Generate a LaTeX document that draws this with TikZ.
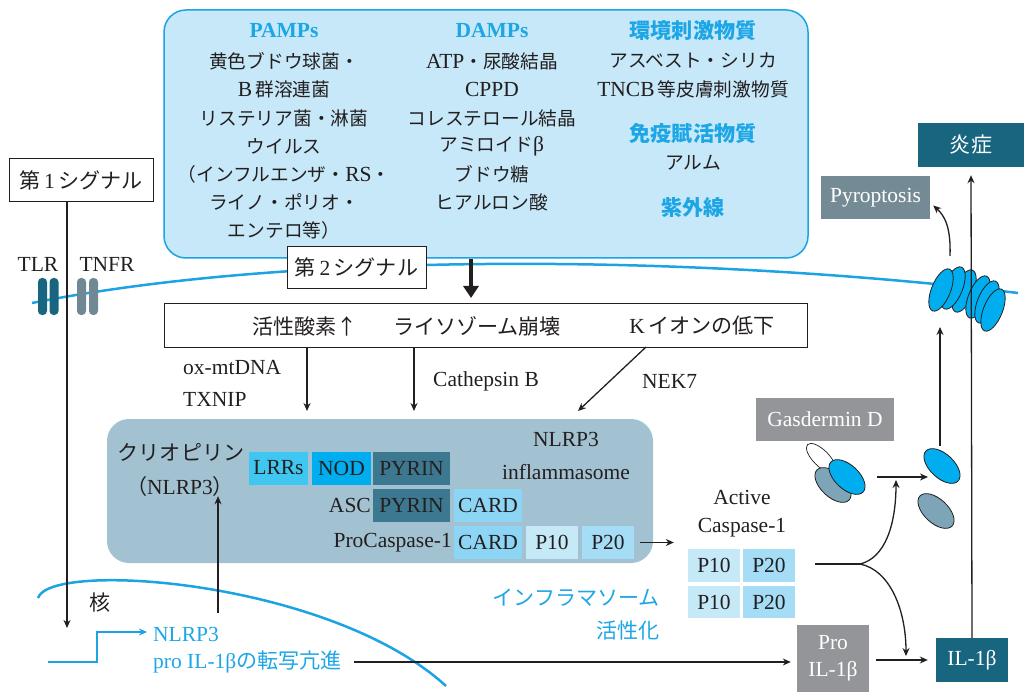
\documentclass[tikz,border=0pt]{standalone}
\usepackage{fontspec}
\setmainfont{Liberation Serif}
\newfontfamily\jp{Noto Sans CJK JP}[Scale=0.98]
\newfontfamily\jps{Noto Sans CJK JP}[Scale=0.87]
\usetikzlibrary{arrows.meta}
\definecolor{ink}{HTML}{231F20}
\definecolor{cyanline}{HTML}{1BA3E3}
\definecolor{skyfill}{HTML}{C6E8F8}
\definecolor{bluetext}{HTML}{1DA6E6}
\definecolor{inflbox}{HTML}{A3C2D1}
\definecolor{tealdark}{HTML}{17657F}
\definecolor{pyrin}{HTML}{3D7891}
\definecolor{lrr}{HTML}{3FC6F1}
\definecolor{nod}{HTML}{00AEEF}
\definecolor{card}{HTML}{8DD5F4}
\definecolor{pten}{HTML}{C6E9F8}
\definecolor{ptwenty}{HTML}{A6DDF6}
\definecolor{greybox}{HTML}{939598}
\definecolor{pyro}{HTML}{748B96}
\definecolor{gsdgrey}{HTML}{7EA4B8}
\definecolor{tnfr}{HTML}{6F8894}
\newcommand\bodyfont{\fontsize{21.5}{25}\selectfont}
\begin{document}
\begin{tikzpicture}[x=1pt,y=-1pt,
  lbl/.style={inner sep=0pt, font=\bodyfont, text=ink},
  head/.style={inner sep=0pt, font=\bodyfont\bfseries, text=bluetext},
  bluelbl/.style={inner sep=0pt, font=\bodyfont, text=bluetext},
  sigbox/.style={draw=ink, line width=1pt, fill=white, inner sep=0pt, font=\bodyfont, text=ink},
  dom/.style={inner sep=0pt, font=\bodyfont, text=ink, minimum height=33pt},
  tag/.style={inner sep=0pt, font=\bodyfont, text=white},
  arr/.style={draw=ink, line width=1.3pt, -{Stealth[length=8pt,width=7pt]}},
  membrane/.style={draw=cyanline, line width=2.5pt},
  pore/.style={draw=ink, line width=0.8pt, fill=nod},
]
\useasboundingbox (0,0) rectangle (1024,692);

% ---- stimuli panel ----
\draw[draw=cyanline, line width=1.5pt, fill=skyfill, rounded corners=22pt]
  (164,10) rectangle (808,258);

\node[head] (pamps) at (284,31) {PAMPs};
\node[lbl] (pa1) at (284,61) {\jps 黄色ブドウ球菌・};
\node[lbl] (pa2) at (284,89) {B{\jps\,群溶連菌}};
\node[lbl] (pa3) at (284,118) {\jps リステリア菌・淋菌};
\node[lbl] (pa4) at (284,146) {\jps ウイルス};
\node[lbl] (pa5) at (284,174) {{\jps （インフルエンザ・}RS{\jps ・}};
\node[lbl] (pa6) at (284,202) {\jps ライノ・ポリオ・};
\node[lbl] (pa7) at (284,230) {\jps エンテロ等）};

\node[head] (damps) at (492,31) {DAMPs};
\node[lbl] (da1) at (492,61) {ATP{\jps ・尿酸結晶}};
\node[lbl] (da2) at (492,89) {CPPD};
\node[lbl] (da3) at (492,118) {\jps コレステロール結晶};
\node[lbl] (da4) at (492,146) {{\jps アミロイド}β};
\node[lbl] (da5) at (492,174) {\jps ブドウ糖};
\node[lbl] (da6) at (492,202) {\jps ヒアルロン酸};

\node[head] (env) at (693,31) {\jp\bfseries 環境刺激物質};
\node[lbl] (en1) at (693,61) {\jps アスベスト・シリカ};
\node[lbl] (en2) at (693,89) {TNCB{\jps\,等皮膚刺激物質}};
\node[head] (adj) at (693,133) {\jp\bfseries 免疫賦活物質};
\node[lbl] (adj1) at (693,163) {\jps アルム};
\node[head] (uv) at (693,208) {\jp\bfseries 紫外線};

% ---- cell membrane ----
\draw[membrane] (32,303) .. controls (300,250) and (700,255) .. (1018,293);

% ---- receptors ----
\foreach \x in {42.5,54} \fill[tealdark, rounded corners=4pt] (\x-4.5,278) rectangle (\x+4.5,315);
\foreach \x in {81.5,93.5} \fill[tnfr, rounded corners=4pt] (\x-4.5,278) rectangle (\x+4.5,315);
\node[lbl] (tlr) at (38,264) {TLR};
\node[lbl] (tnfr) at (107,264) {TNFR};

% ---- signals ----
\node[sigbox, minimum width=144pt, minimum height=43pt] (sig1) at (81,180.5) {{\jp 第}\,1\,{\jp シグナル}};
\node[sigbox, minimum width=139pt, minimum height=42pt] (sig2) at (356.5,267.5) {{\jp 第}\,2\,{\jp シグナル}};
\coordinate (sigtop) at (471,259);
\coordinate (sigbot) at (471,298);
\draw[draw=ink, line width=4.5pt, -{Triangle[length=12pt,width=15pt]}] (sigtop) -- (sigbot);

\node[sigbox, minimum width=643pt, minimum height=44pt] (trig) at (485.5,325) {};
\node[lbl] (ros) at (305,326) {{\jp 活性酸素↑}};
\node[lbl] (lys) at (477,326) {\jp ライソゾーム崩壊};
\node[lbl] (kion) at (702,326) {K{\jp\,イオンの低下}};

\coordinate (rosout) at (307,347);
\coordinate (rosin) at (307,411);
\coordinate (lysout) at (414,347);
\coordinate (lysin) at (414,411);
\coordinate (kout) at (646,347);
\coordinate (kin) at (578,411);
\draw[arr] (rosout) -- (rosin);
\draw[arr] (lysout) -- (lysin);
\draw[arr] (kout) -- (kin);

\node[lbl, anchor=west] (oxmt) at (183,368) {ox-mtDNA};
\node[lbl, anchor=west] (txnip) at (183,399) {TXNIP};
\node[lbl, anchor=west] (cath) at (433,381) {Cathepsin B};
\node[lbl, anchor=west] (nek) at (642,381) {NEK7};

% ---- inflammasome ----
\fill[inflbox, rounded corners=22pt] (107,419) rectangle (653,563);
\node[lbl] (crio) at (181,452) {\jp クリオピリン};
\node[lbl] (crio2) at (180,486) {{\jp （}NLRP3{\jp ）}};
\node[lbl] (nlrp) at (566,439) {NLRP3};
\node[lbl] (nlrp2) at (566,472) {inflammasome};

\node[dom, fill=lrr, minimum width=59pt] (lrrs) at (278.5,468) {LRRs};
\node[dom, fill=nod, minimum width=59pt] (nod) at (341.5,468) {NOD};
\node[dom, fill=pyrin, minimum width=77pt] (pyr1) at (411.5,468) {PYRIN};
\node[lbl, anchor=east] (asc) at (371,505.5) {ASC};
\node[dom, fill=pyrin, minimum width=77pt] (pyr2) at (411.5,505.5) {PYRIN};
\node[dom, fill=card, minimum width=68pt] (card1) at (488,505.5) {CARD};
\node[lbl, anchor=east] (procasp) at (452,542.5) {ProCaspase-1};
\node[dom, fill=card, minimum width=68pt] (card2) at (488,542.5) {CARD};
\node[dom, fill=pten, minimum width=52pt] (p10a) at (552,542.5) {P10};
\node[dom, fill=ptwenty, minimum width=52pt] (p20a) at (608,542.5) {P20};

% ---- active caspase-1 ----
\node[lbl] (act) at (742,497) {Active};
\node[lbl] (act2) at (742,528) {Caspase-1};
\node[dom, fill=pten, minimum width=52pt] (ap10a) at (714,565.5) {P10};
\node[dom, fill=ptwenty, minimum width=52pt] (ap20a) at (769,565.5) {P20};
\node[dom, fill=pten, minimum width=52pt, minimum height=32pt] (ap10b) at (714,602) {P10};
\node[dom, fill=ptwenty, minimum width=52pt, minimum height=32pt] (ap20b) at (769,602) {P20};
\draw[arr] ([xshift=6pt]p20a.east) -- ([xshift=-14pt]ap10a.west |- p20a.east);

\node[bluelbl, anchor=east] (actv) at (660,598) {\jp インフラマソーム};
\node[bluelbl, anchor=east] (actv2) at (660,630) {\jp 活性化};

% ---- nucleus ----
\draw[membrane] (38,598) .. controls (50,560) and (330,580) .. (446,686);
\node[lbl] (nuc) at (100,603) {\jp 核};
\coordinate (sig1in) at (67,628);
\draw[arr] (sig1.south -| sig1in) -- (sig1in);

\coordinate (tr0) at (48,662);
\coordinate (tr1) at (97,662);
\coordinate (tr2) at (97,632);
\coordinate (tr3) at (147,632);
\draw[draw=cyanline, line width=2pt, -{Stealth[length=8pt,width=7pt]}] (tr0) -- (tr1) -- (tr2) -- (tr3);
\node[bluelbl, anchor=west] (trn) at (153,634) {NLRP3};
\node[bluelbl, anchor=west] (trp) at (153,662) {pro IL-1β{\jp の転写亢進}};

\coordinate (nlrpup) at (218,613);
\draw[arr] (nlrpup) -- (crio2.south -| nlrpup);

% ---- IL-1beta ----
\node[tag, fill=greybox, minimum width=72pt, minimum height=67pt, align=center] (proil) at (833,658.5) {Pro\\[2pt]IL-1β};
\node[tag, fill=tealdark, minimum width=72pt, minimum height=44pt] (il1b) at (972,660) {IL-1β};
\draw[arr] ([xshift=12pt]trp.east) -- ([xshift=-6pt]proil.west |- trp.east);
\draw[arr] ([xshift=7pt]proil.east |- il1b.west) -- ([xshift=-8pt]il1b.west);

% ---- gasdermin D ----
\node[tag, fill=greybox, minimum width=138pt, minimum height=43pt] (gsdm) at (825,419.5) {Gasdermin D};
\draw[ink, line width=0.7pt, fill=white, rotate around={-45:(821,458)}] (821,458) ellipse [x radius=19, y radius=8];
\draw[ink, line width=0.8pt, fill=gsdgrey, rotate around={-43:(833,485)}] (833,485) ellipse [x radius=22, y radius=12];
\draw[ink, line width=0.8pt, fill=nod, rotate around={-43:(847,477)}] (847,477) ellipse [x radius=22, y radius=12];

\draw[ink, line width=0.8pt, fill=nod, rotate around={-43:(942,466)}] (942,466) ellipse [x radius=22, y radius=12];
\draw[ink, line width=0.8pt, fill=gsdgrey, rotate around={-43:(936,511)}] (936,511) ellipse [x radius=22, y radius=12];

\coordinate (gsdout) at (877,477);
\coordinate (gsdin) at (928,477);
\draw[arr] (gsdout) -- (gsdin);

% cleavage by active caspase-1
\coordinate (c0) at (815,564);
\coordinate (c1) at (860,564);
\coordinate (cup) at (896,480);
\coordinate (cdown) at (906,656);
\draw[ink, line width=1.3pt] (c0) -- (c1);
\draw[arr] (c1) .. controls (885,558) and (896,525) .. (cup);
\draw[arr] (c1) .. controls (890,570) and (906,610) .. (cdown);

% ---- pore (back ring first) ----
\foreach \cx/\cy in {964/291, 953/288, 941/290, 978/297, 987/302, 993/310}
  \draw[pore, rotate around={-22:(\cx,\cy)}] (\cx,\cy) ellipse [x radius=9.5, y radius=22.5];

\coordinate (gsdup) at (940,446);
\coordinate (poreb) at (940,327);
\draw[arr] (gsdup) -- (poreb);

% ---- outcomes ----
\node[tag, fill=tealdark, minimum width=106pt, minimum height=44pt] (ensho) at (971,145) {\jp 炎症};
\node[tag, fill=pyro, minimum width=109pt, minimum height=43pt] (pyrop) at (875.5,197.5) {Pyroptosis};
\draw[arr] (il1b.north) -- ([yshift=-8pt]ensho.south);
\coordinate (poretop) at (950,256);
\draw[arr] (poretop) .. controls (951,228) and (945,216) .. ([xshift=3pt,yshift=-8pt]pyrop.east);

\end{tikzpicture}
\end{document}
